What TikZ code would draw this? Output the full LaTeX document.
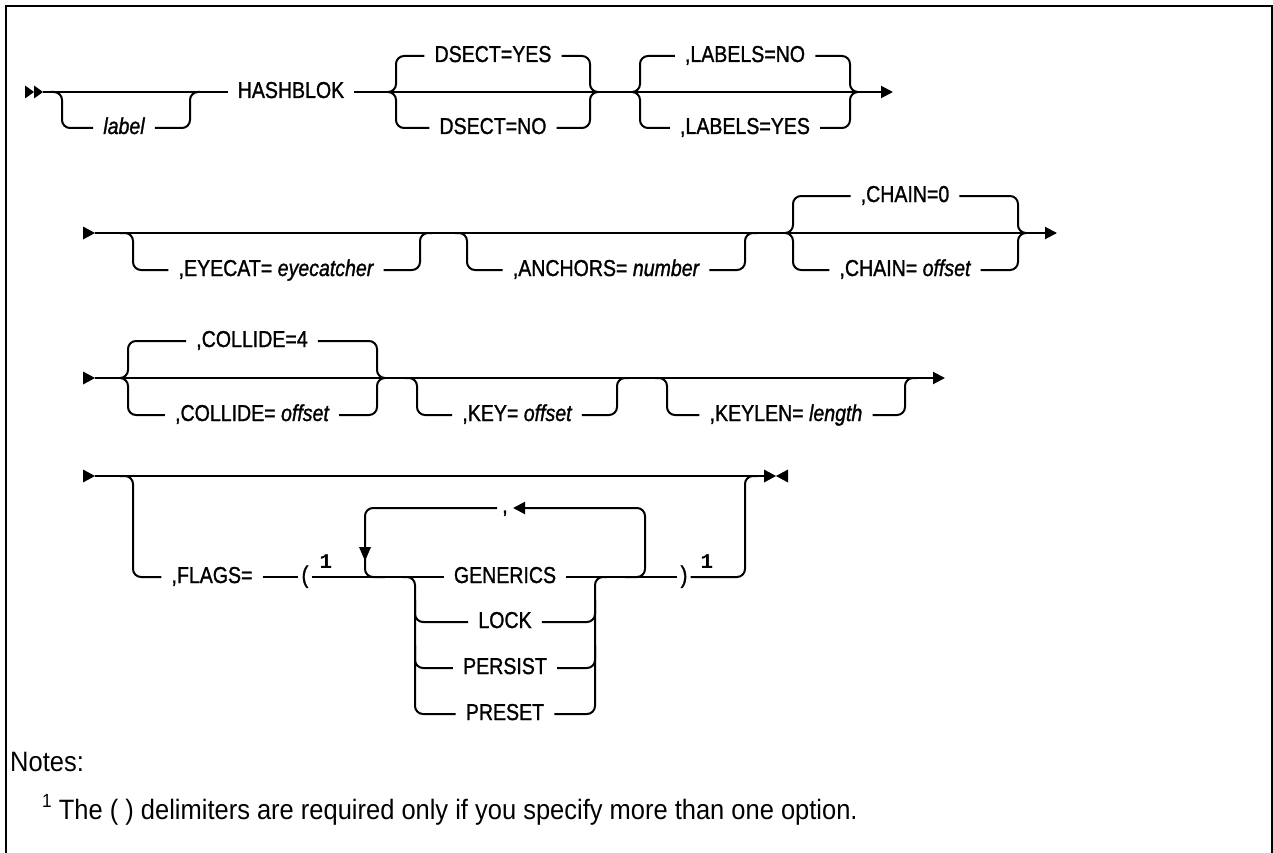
\documentclass[tikz,border=0pt]{standalone}
\usepackage{fontspec}
\setmainfont{Liberation Sans}
\newfontfamily\railfont[FakeStretch=0.85,FakeBold=1.2]{Liberation Sans}
\newfontfamily\notefont[FakeStretch=0.91]{Liberation Sans}
\newfontfamily\digitfont{Liberation Mono}
\usetikzlibrary{arrows.meta}

\begin{document}
\begin{tikzpicture}[x=1pt,y=-1pt,
  rail/.style={line width=2pt, line cap=butt},
  curvy/.style={rail, rounded corners=8pt},
  endtip/.style={-{Triangle[length=12pt,width=12pt]}},
  word/.style={font=\railfont\fontsize{23}{26}\selectfont, inner xsep=10pt, inner ysep=0pt,
               text height=17pt, text depth=5pt},
  delim/.style={font=\railfont\fontsize{24}{26}\selectfont, inner xsep=3pt, inner ysep=0pt,
                text height=17pt, text depth=5pt},
  fnmark/.style={font=\digitfont\bfseries\fontsize{21}{22}\selectfont, inner sep=0pt},
  notetext/.style={font=\notefont\fontsize{28}{32}\selectfont, anchor=west, inner sep=0pt},
  headR/.pic={\fill (-12,-6.5) -- (0,0) -- (-12,6.5) -- cycle;},
  headL/.pic={\fill (12,-6.5) -- (0,0) -- (12,6.5) -- cycle;},
  headS/.pic={\fill (-9,-6.5) -- (0,0) -- (-9,6.5) -- cycle;},
  headD/.pic={\fill (-6,-14) -- (0,0) -- (6,-14) -- cycle;}
]
\useasboundingbox (0,0) rectangle (1273,853);

% frame
\draw[line width=2.5pt] (6,853) -- (6,6) -- (1272,6) -- (1272,853);

% ---------------- row 1 ----------------
\pic at (34,92) {headS};
\pic at (43,92) {headS};
\node[word] (hash) at (291,92) {HASHBLOK};
\node[word] (lab) at (124,128) {\itshape label};
\draw[rail] (43,92) -- (hash.west);
\draw[curvy] (50,92) -- (62,92) -- (62,128) -- (lab.west);
\draw[curvy] (lab.east) -- (190,128) -- (190,92) -- (200,92);
\draw[rail,endtip] (hash.east) -- (893,92);
% DSECT choice
\node[word] (dsy) at (493,56) {DSECT=YES};
\node[word] (dsn) at (493,128) {DSECT=NO};
\draw[rail] (dsy.west) -- (404,56) to[out=180,in=90] (396,64) -- (396,84) to[out=-90,in=0] (388,92);
\draw[rail] (dsn.west) -- (404,128) to[out=180,in=-90] (396,120) -- (396,100) to[out=90,in=0] (388,92);
\draw[rail] (dsy.east) -- (582,56) to[out=0,in=90] (590,64) -- (590,84) to[out=-90,in=180] (598,92);
\draw[rail] (dsn.east) -- (582,128) to[out=0,in=-90] (590,120) -- (590,100) to[out=90,in=180] (598,92);
% LABELS choice
\node[word] (lbn) at (745,56) {,LABELS=NO};
\node[word] (lby) at (745,128) {,LABELS=YES};
\draw[rail] (lbn.west) -- (648,56) to[out=180,in=90] (640,64) -- (640,84) to[out=-90,in=0] (632,92);
\draw[rail] (lby.west) -- (648,128) to[out=180,in=-90] (640,120) -- (640,100) to[out=90,in=0] (632,92);
\draw[rail] (lbn.east) -- (842,56) to[out=0,in=90] (850,64) -- (850,84) to[out=-90,in=180] (858,92);
\draw[rail] (lby.east) -- (842,128) to[out=0,in=-90] (850,120) -- (850,100) to[out=90,in=180] (858,92);

% ---------------- row 2 ----------------
\pic at (95,233) {headR};
\draw[rail,endtip] (95,233) -- (1057,233);
\node[word] (eye) at (276,270) {,EYECAT= \itshape eyecatcher};
\draw[curvy] (120,233) -- (133,233) -- (133,270) -- (eye.west);
\draw[curvy] (eye.east) -- (420,270) -- (420,233) -- (432,233);
\node[word] (anc) at (606,270) {,ANCHORS= \itshape number};
\draw[curvy] (455,233) -- (467,233) -- (467,270) -- (anc.west);
\draw[curvy] (anc.east) -- (745,270) -- (745,233) -- (757,233);
% CHAIN choice
\node[word] (chz) at (905,196) {,CHAIN=0};
\node[word] (cho) at (905,270) {,CHAIN= \itshape offset};
\draw[rail] (chz.west) -- (801,196) to[out=180,in=90] (793,204) -- (793,225) to[out=-90,in=0] (785,233);
\draw[rail] (cho.west) -- (801,270) to[out=180,in=-90] (793,262) -- (793,241) to[out=90,in=0] (785,233);
\draw[rail] (chz.east) -- (1010,196) to[out=0,in=90] (1018,204) -- (1018,225) to[out=-90,in=180] (1026,233);
\draw[rail] (cho.east) -- (1010,270) to[out=0,in=-90] (1018,262) -- (1018,241) to[out=90,in=180] (1026,233);

% ---------------- row 3 ----------------
\pic at (95,378) {headR};
\draw[rail,endtip] (95,378) -- (945,378);
\node[word] (cof) at (252,341) {,COLLIDE=4};
\node[word] (coo) at (252,415) {,COLLIDE= \itshape offset};
\draw[rail] (cof.west) -- (136,341) to[out=180,in=90] (128,349) -- (128,370) to[out=-90,in=0] (120,378);
\draw[rail] (coo.west) -- (136,415) to[out=180,in=-90] (128,407) -- (128,386) to[out=90,in=0] (120,378);
\draw[rail] (cof.east) -- (369,341) to[out=0,in=90] (377,349) -- (377,370) to[out=-90,in=180] (385,378);
\draw[rail] (coo.east) -- (369,415) to[out=0,in=-90] (377,407) -- (377,386) to[out=90,in=180] (385,378);
\node[word] (key) at (517,415) {,KEY= \itshape offset};
\draw[curvy] (405,378) -- (417,378) -- (417,415) -- (key.west);
\draw[curvy] (key.east) -- (617,415) -- (617,378) -- (629,378);
\node[word] (kln) at (786,415) {,KEYLEN= \itshape length};
\draw[curvy] (655,378) -- (667,378) -- (667,415) -- (kln.west);
\draw[curvy] (kln.east) -- (905,415) -- (905,378) -- (917,378);

% ---------------- row 4 ----------------
\pic at (95,476) {headR};
\draw[rail] (95,476) -- (765,476);
\pic at (776,476) {headR};
\pic at (776,476) {headL};
\node[word] (flg) at (212,577) {,FLAGS=};
\node[delim] (lp) at (305,577) {(};
\node[fnmark] (m1) at (326,562) {1};
\node[delim] (rp) at (684,577) {)};
\node[fnmark] (m2) at (707,562) {1};
\draw[curvy] (120,476) -- (133,476) -- (133,577) -- (flg.west);
\draw[rail] (flg.east) -- (lp.west);
\draw[curvy] (rp.east) -- (745,577) -- (745,476) -- (757,476);
% option stack
\node[word] (gen) at (505,577) {GENERICS};
\node[word] (lck) at (505,622) {LOCK};
\node[word] (per) at (505,668) {PERSIST};
\node[word] (pre) at (505,714) {PRESET};
\draw[rail] (lp.east) -- (gen.west);
\draw[rail] (gen.east) -- (rp.west);
\draw[curvy] (403,577) -- (415,577) -- (415,714) -- (pre.west);
\draw[curvy] (415,600) -- (415,622) -- (lck.west);
\draw[curvy] (415,645) -- (415,668) -- (per.west);
\draw[curvy] (pre.east) -- (595,714) -- (595,577) -- (607,577);
\draw[curvy] (lck.east) -- (595,622) -- (595,600);
\draw[curvy] (per.east) -- (595,668) -- (595,645);
% repeat loop
\node[font=\railfont\fontsize{23}{26}\selectfont, inner sep=0pt, anchor=base] (sep) at (505,513) {,};
\draw[curvy,endtip] (625,577) -- (645,577) -- (645,508) -- (513,508);
\draw[curvy] (497,508) -- (365,508) -- (365,577) -- (385,577);
\pic at (365,561) {headD};

% ---------------- notes ----------------
\node[notetext] (notes) at (10,762) {Notes:};
\node[notetext] (fn) at (42,810)
  {\raisebox{0.42em}{\fontsize{19}{20}\selectfont 1} The ( ) delimiters are required only if you specify more than one option.};
\end{tikzpicture}
\end{document}
